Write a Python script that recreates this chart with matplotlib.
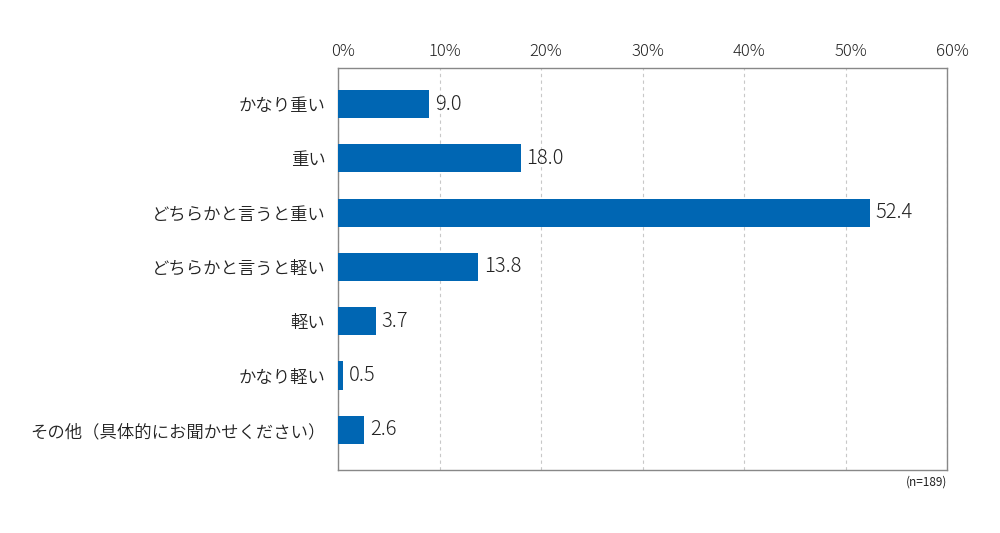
import matplotlib
matplotlib.use('Agg')
import matplotlib.pyplot as plt
import matplotlib.transforms as mtransforms

plt.rcParams['font.family'] = ['Noto Sans CJK JP', 'DejaVu Sans']

# データ
categories = ['かなり重い', '重い', 'どちらかと言うと重い', 'どちらかと言うと軽い',
              '軽い', 'かなり軽い', 'その他（具体的にお聞かせください）']
values = [9.0, 18.0, 52.4, 13.8, 3.7, 0.5, 2.6]
xticks = [0, 10, 20, 30, 40, 50, 60]
xtick_labels = ['0%', '10%', '20%', '30%', '40%', '50%', '60%']
note = '(n=189)'

bar_color = '#0066b3'
text_color = '#222222'

fig = plt.figure(figsize=(10, 5.33), dpi=100)
ax = fig.add_axes([0.338, 0.118, 0.609, 0.754])

y = list(range(len(categories)))
ax.barh(y, values, height=0.52, color=bar_color, zorder=3)

for yi, v in zip(y, values):
    ax.annotate(f'{v:.1f}', xy=(v, yi), xytext=(4, 0), textcoords='offset points',
                va='center', ha='left', fontsize=14.5, fontweight='light',
                color=text_color)

ax.set_xlim(0, 60)
ax.set_ylim(6.74, -0.66)
ax.set_yticks(y)
ax.set_yticklabels(categories, fontsize=12.5, fontweight=350, color=text_color)
ax.xaxis.tick_top()
ax.set_xticks(xticks)
ax.set_xticklabels(xtick_labels, fontsize=12, fontweight='light', color=text_color)
ax.tick_params(axis='both', length=0)
ax.tick_params(axis='y', pad=9)
ax.tick_params(axis='x', pad=6)

# 目盛りラベルを少し右へ
offset = mtransforms.ScaledTranslation(5 / 100, 0, fig.dpi_scale_trans)
for lbl in ax.get_xticklabels():
    lbl.set_transform(lbl.get_transform() + offset)

ax.grid(axis='x', color='#c8c8c8', linestyle=(0, (3, 3)), linewidth=0.8, zorder=0)
for s in ax.spines.values():
    s.set_color('#888888')
    s.set_linewidth(1.0)

fig.text(0.947, 0.095, note, ha='right', va='center', fontsize=8.5, color=text_color)

fig.savefig('out.png', dpi=100)
